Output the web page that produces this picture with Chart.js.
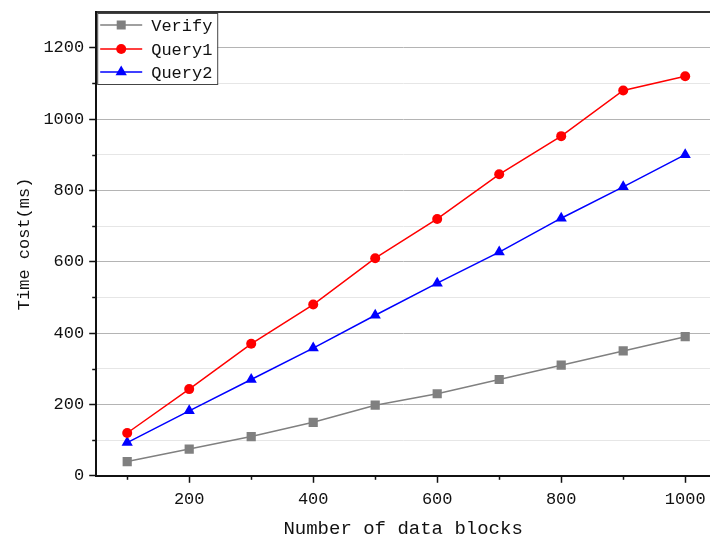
<!DOCTYPE html>
<html><head><meta charset="utf-8">
<script src="https://cdn.jsdelivr.net/npm/chart.js@4.4.1/dist/chart.umd.min.js"></script>
<style>html,body{margin:0;padding:0;background:#fff;overflow:hidden}#wrap{width:710px;height:540px}</style>
</head><body><div id="wrap"><canvas id="c" width="710" height="540"></canvas></div>
<script>
const blocks = [100, 200, 300, 400, 500, 600, 700, 800, 900, 1000];
const verify = [40, 75, 110, 150, 198, 230, 270, 310, 350, 390];
const query1 = [120, 243, 370, 480, 610, 720, 845, 952, 1080, 1120];
const query2 = [93, 182, 270, 358, 450, 540, 627, 722, 810, 900];
const xTicks = [100, 200, 300, 400, 500, 600, 700, 800, 900, 1000];
const yTicks = [0, 100, 200, 300, 400, 500, 600, 700, 800, 900, 1000, 1100, 1200];
const seriesNames = ['Verify', 'Query1', 'Query2'];

const FONT = "'Liberation Mono', 'DejaVu Sans Mono', monospace";
const AX = '#111';
const colors = ['#808080', '#ff0000', '#0000ff'];
const styles = ['rect', 'circle', 'triangle'];
const radii = [6.5, 5, 6.5];

function pts(arr){ return blocks.map((b,i)=>({x:b,y:arr[i]})); }
const datasets = [verify, query1, query2].map((arr,i)=>({
  label: seriesNames[i], data: pts(arr), borderColor: colors[i], backgroundColor: colors[i],
  borderWidth: 1.5, pointStyle: styles[i], pointRadius: radii[i], pointBorderWidth: 0,
  pointBackgroundColor: colors[i], pointBorderColor: colors[i], tension: 0, xAxisID:'x', yAxisID:'y'
}));

const minorTicks = {
  id: 'minorTicks',
  afterDraw(chart){
    const ctx = chart.ctx, xs = chart.scales.x, ys = chart.scales.y;
    ctx.save(); ctx.strokeStyle = AX; ctx.lineWidth = 1.5;
    xTicks.filter(v=>v%200!==0).forEach(v=>{
      const px = Math.round(xs.getPixelForValue(v))+0.5;
      ctx.beginPath(); ctx.moveTo(px, ys.bottom); ctx.lineTo(px, ys.bottom+4); ctx.stroke();
    });
    yTicks.filter(v=>v%200!==0).forEach(v=>{
      const py = Math.round(ys.getPixelForValue(v))+0.5;
      ctx.beginPath(); ctx.moveTo(xs.left, py); ctx.lineTo(xs.left-4, py); ctx.stroke();
    });
    ctx.restore();
  }
};

const boxLegend = {
  id: 'boxLegend',
  afterDraw(chart){
    const ctx = chart.ctx, ca = chart.chartArea;
    const x0 = ca.left + 1, y0 = ca.top + 1, w = 120, h = 71;
    ctx.save();
    ctx.fillStyle = '#fff'; ctx.fillRect(x0, y0, w, h);
    ctx.strokeStyle = '#444'; ctx.lineWidth = 1; ctx.strokeRect(x0+0.5, y0+0.5, w, h);
    const rows = [12, 36, 59];
    rows.forEach((dy,i)=>{
      const cy = y0 + dy, c = colors[i];
      ctx.strokeStyle = c; ctx.lineWidth = 1.5;
      ctx.beginPath(); ctx.moveTo(x0+3, cy); ctx.lineTo(x0+45, cy); ctx.stroke();
      ctx.fillStyle = c; const mx = x0 + 24;
      ctx.beginPath();
      if (i===0) { ctx.rect(mx-4.5, cy-4.5, 9, 9); }
      else if (i===1) { ctx.arc(mx, cy, 5, 0, Math.PI*2); }
      else { const r = 6.5; ctx.moveTo(mx, cy-r); ctx.lineTo(mx+r*0.866, cy+r*0.5); ctx.lineTo(mx-r*0.866, cy+r*0.5); ctx.closePath(); }
      ctx.fill();
      ctx.fillStyle = '#111'; ctx.font = "17px " + FONT; ctx.textBaseline = 'middle'; ctx.textAlign = 'left';
      ctx.fillText(seriesNames[i], x0 + 54, cy + 1);
    });
    ctx.restore();
  }
};

function noSidePad(axis){ axis.paddingRight = 0; }
function noVertPad(axis){ axis.paddingTop = 0; axis.paddingBottom = 0; }

new Chart(document.getElementById('c'), {
  type: 'line',
  data: { datasets },
  options: {
    responsive: false, animation: false,
    layout: { autoPadding: false, padding: { left: 12, top: 4, right: 0, bottom: 0 } },
    plugins: { legend: { display: false }, tooltip: { enabled: false } },
    scales: {
      x: {
        type: 'linear', position: 'bottom', min: 50, max: 1040,
        afterBuildTicks(axis){ axis.ticks = xTicks.map(v=>({value:v})); },
        afterFit: noSidePad,
        ticks: { autoSkip: false, maxRotation: 0, padding: 6, color: AX,
          font: { family: FONT, size: 17 }, callback: v => (v % 200 === 0 ? String(v) : '') },
        grid: { drawOnChartArea: false, tickLength: 7, tickWidth: 1.5,
          tickColor: c => (c.tick && c.tick.value % 200 === 0 ? AX : 'rgba(0,0,0,0)') },
        border: { color: AX, width: 2 },
        title: { display: true, text: 'Number of data blocks', color: AX,
          font: { family: FONT, size: 19 }, padding: { top: 2, bottom: 0 } }
      },
      x2: {
        type: 'linear', position: 'top', min: 50, max: 1040,
        afterBuildTicks(axis){ axis.ticks = []; },
        afterFit: noSidePad,
        ticks: { display: false }, grid: { display: false },
        border: { color: '#333', width: 2 }
      },
      y: {
        type: 'linear', min: 0, max: 1300,
        afterBuildTicks(axis){ axis.ticks = yTicks.map(v=>({value:v})); },
        afterFit: noVertPad,
        ticks: { autoSkip: false, padding: 5, color: AX,
          font: { family: FONT, size: 17 }, callback: v => (v % 200 === 0 ? String(v) : '') },
        grid: {
          color: c => (!c.tick || c.tick.value === 0 ? 'rgba(0,0,0,0)' : (c.tick.value % 200 === 0 ? '#b4b4b4' : '#e6e6e6')),
          lineWidth: 1, tickLength: 7, tickWidth: 1.5,
          tickColor: c => (c.tick && c.tick.value % 200 === 0 ? AX : 'rgba(0,0,0,0)')
        },
        border: { color: AX, width: 2 },
        title: { display: true, text: 'Time cost(ms)', color: AX,
          font: { family: FONT, size: 17 }, padding: { top: 2, bottom: 4 } }
      }
    }
  },
  plugins: [minorTicks, boxLegend]
});
</script></body></html>
